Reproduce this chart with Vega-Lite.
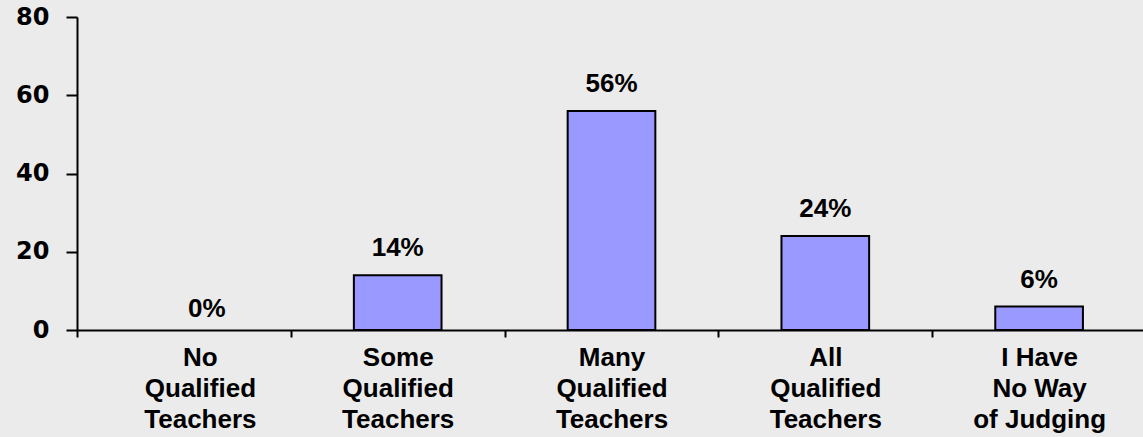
{
  "$schema": "https://vega.github.io/schema/vega-lite/v6.json",
  "width": 1069,
  "height": 313,
  "autosize": {"type": "none"},
  "padding": {"left": 77, "top": 17, "right": 0, "bottom": 107},
  "background": "#EBEBEB",
  "config": {"view": {"stroke": null}},
  "data": {"values": [
    {"category": "No|Qualified|Teachers", "value": 0, "label": "0%"},
    {"category": "Some|Qualified|Teachers", "value": 14, "label": "14%"},
    {"category": "Many|Qualified|Teachers", "value": 56, "label": "56%"},
    {"category": "All|Qualified|Teachers", "value": 24, "label": "24%"},
    {"category": "I Have|No Way|of Judging", "value": 6, "label": "6%"}
  ]},
  "encoding": {
    "x": {
      "field": "category", "type": "nominal",
      "sort": ["No|Qualified|Teachers", "Some|Qualified|Teachers", "Many|Qualified|Teachers", "All|Qualified|Teachers", "I Have|No Way|of Judging"],
      "scale": {"paddingInner": 0, "paddingOuter": 0},
      "axis": {
        "title": null, "labelAngle": 0,
        "labelExpr": "split(datum.label, '|')",
        "labelFont": "Liberation Sans", "labelFontSize": 26, "labelFontWeight": "bold",
        "labelColor": "black", "labelLineHeight": 31, "labelPadding": 7,
        "labelBaseline": "top",
        "labelOffset": {"condition": {"test": "datum.value === 'No|Qualified|Teachers'", "value": 16}, "value": 0},
        "tickBand": "extent", "tickSize": 7, "tickColor": "black", "tickWidth": 2,
        "domainColor": "black", "domainWidth": 2
      }
    },
    "y": {
      "field": "value", "type": "quantitative",
      "scale": {"domain": [0, 80]},
      "axis": {
        "title": null, "values": [0, 20, 40, 60, 80], "grid": false,
        "labelFont": "DejaVu Sans", "labelFontSize": 24, "labelFontWeight": "bold",
        "labelColor": "black", "labelPadding": 17,
        "tickSize": 11, "tickColor": "black", "tickWidth": 2,
        "domainColor": "black", "domainWidth": 2
      }
    }
  },
  "layer": [
    {"transform": [{"filter": "datum.value > 0"}],
     "mark": {"type": "bar", "width": {"band": 0.41}, "fill": "#9999FF", "stroke": "black", "strokeWidth": 2}},
    {"transform": [{"filter": "datum.value > 0"}],
     "mark": {"type": "text", "dy": -19, "baseline": "alphabetic", "font": "Liberation Sans", "fontSize": 26, "fontWeight": "bold", "color": "black"},
     "encoding": {"text": {"field": "label"}}},
    {"transform": [{"filter": "datum.value <= 0"}],
     "mark": {"type": "text", "dy": -13, "dx": 23, "baseline": "alphabetic", "font": "Liberation Sans", "fontSize": 26, "fontWeight": "bold", "color": "black"},
     "encoding": {"text": {"field": "label"}}}
  ]
}
